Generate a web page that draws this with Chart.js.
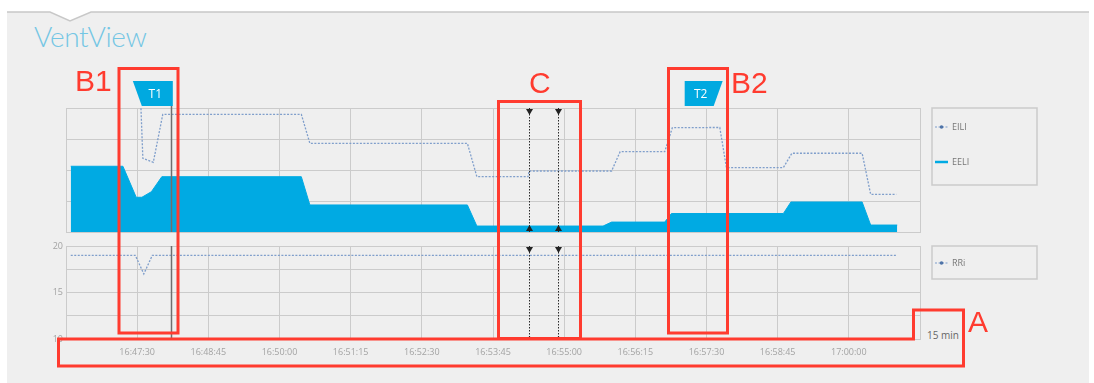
<!DOCTYPE html>
<html>
<head>
<meta charset="utf-8">
<script src="https://cdn.jsdelivr.net/npm/chart.js@4.4.0/dist/chart.umd.min.js"></script>
<style>
  html, body { margin: 0; padding: 0; background: #fff; }
  #page { position: relative; width: 1094px; height: 383px; overflow: hidden; }
  #page canvas, #page svg { position: absolute; left: 0; top: 0; }
  .title { position: absolute; left: 34px; top: 19px; font: 300 28px Lato, 'Open Sans', sans-serif; letter-spacing: -0.4px; color: #74c6e4; }
  .range { position: absolute; left: 927px; top: 328px; font: 10px 'Open Sans', sans-serif; color: #666; }
</style>
</head>
<body>
<div id="page">
  <svg width="1094" height="383">
    <polygon points="7,12 50,12 70,21 91,12 1089,12 1089,383 7,383" fill="#efefef"/>
    <polyline points="7,12 50,12 70,21 91,12 1089,12" fill="none" stroke="#c8c8c8" stroke-width="1.5"/>
  </svg>
  <div class="title">VentView</div>
  <div class="range">15 min</div>
  <canvas id="topChart" width="1094" height="383"></canvas>
  <canvas id="bottomChart" width="1094" height="383"></canvas>
  <svg width="1094" height="383">
    <g fill="none" stroke="#ff3b2f" stroke-width="3">
      <rect x="119" y="68.5" width="59" height="264.5"/>
      <rect x="668.5" y="68.5" width="59" height="264.5"/>
      <rect x="498.5" y="101.5" width="82" height="237"/>
      <polygon points="58.5,339 913.5,339 913.5,310 963.5,310 963.5,366 58.5,366"/>
    </g>
    <g fill="#ff3b2f" font-family="'Liberation Sans', Arial, sans-serif" font-size="30">
      <text x="75" y="90.5">B1</text>
      <text x="731" y="93">B2</text>
      <text x="529" y="93">C</text>
      <text x="968" y="331.5">A</text>
    </g>
  </svg>
</div>
<script>
// time window: 15 min, grid every 75 s
const startTime = '16:46:15';
const endTime = '17:01:15';

const eeliTimes = ['16:46:20', '16:47:15', '16:47:29', '16:47:35', '16:47:45', '16:47:56', '16:50:23', '16:50:32',
    '16:53:18', '16:53:28', '16:55:41', '16:55:50', '16:56:46', '16:56:53', '16:58:51', '16:58:59',
    '17:00:14', '17:00:23', '17:00:51'];
const eeliValues = [53, 53, 28, 28, 32.5, 44.6, 44.6, 21.8, 21.8, 4.8, 4.8, 8, 8, 14.9, 14.9, 24.2, 24.2, 5.6, 5.6];

const eiliTimes = ['16:47:34', '16:47:36', '16:47:47', '16:47:57', '16:50:23', '16:50:32', '16:53:18', '16:53:28',
    '16:54:22', '16:54:23', '16:55:50', '16:55:59', '16:56:46', '16:56:54', '16:57:44', '16:57:51',
    '16:58:51', '16:59:00', '17:00:14', '17:00:23', '17:00:50'];
const eiliValues = [99.8, 59.4, 56.2, 94.9, 94.9, 71.5, 71.5, 44.6, 44.6, 49.2, 49.2, 64.8, 64.8, 84.1, 84.3, 51.9,
    51.9, 63.5, 63.5, 30.4, 30.4];

const rriTimes = ['16:46:20', '16:47:28', '16:47:37', '16:47:46', '17:00:50'];
const rriValues = [19, 19, 17, 19, 19];

const markerLabels = ['T1', 'T2'];
const markerTimes = ['16:48:06', '16:57:07'];
const cursorTimes = ['16:54:23', '16:54:54'];
const positionTime = '16:48:06';

function toSec(t) {
    let p = t.split(':').map(Number);
    return p[0] * 3600 + p[1] * 60 + p[2];
}
function pad(n) { return String(n).padStart(2, '0'); }
function fmt(s) {
    return pad(Math.floor(s / 3600)) + ':' + pad(Math.floor(s % 3600 / 60)) + ':' + pad(s % 60);
}
function points(times, values) {
    return times.map((t, i) => ({ x: toSec(t), y: values[i] }));
}

Chart.defaults.font.family = "'Open Sans', sans-serif";
Chart.defaults.font.size = 9;
Chart.defaults.color = '#a3a3a3';

const gridColor = '#cbcbcb';

// legend in a framed box right of the plot
const boxLegend = {
    id: 'boxLegend',
    afterDraw(chart, args, opts) {
        let ctx = chart.ctx, a = chart.chartArea;
        let left = a.right + 12, top = a.top;
        ctx.save();
        ctx.strokeStyle = '#cbcbcb';
        ctx.lineWidth = 1.5;
        ctx.strokeRect(left, top, 105, opts.height);
        chart.data.datasets.forEach((ds, i) => {
            let y = top + opts.rows[i];
            if (ds.fill) {
                ctx.strokeStyle = ds.backgroundColor;
                ctx.lineWidth = 2.5;
                ctx.beginPath(); ctx.moveTo(left + 3, y); ctx.lineTo(left + 16, y); ctx.stroke();
            } else {
                ctx.strokeStyle = ds.borderColor;
                ctx.lineWidth = 1.2;
                ctx.setLineDash([2, 1.5]);
                ctx.beginPath(); ctx.moveTo(left + 3, y); ctx.lineTo(left + 16, y); ctx.stroke();
                ctx.setLineDash([]);
                ctx.fillStyle = '#4f74a8';
                ctx.beginPath(); ctx.arc(left + 9.5, y, 1.8, 0, Math.PI * 2); ctx.fill();
            }
            ctx.fillStyle = '#777';
            ctx.font = "9px 'Open Sans', sans-serif";
            ctx.textBaseline = 'middle';
            ctx.fillText(ds.label, left + 20, y);
        });
        ctx.restore();
    }
};

// time cursors and current position line
const cursors = {
    id: 'cursors',
    afterDatasetsDraw(chart, args, opts) {
        let ctx = chart.ctx, a = chart.chartArea, x = chart.scales.x;
        ctx.save();
        let p = Math.round(x.getPixelForValue(toSec(positionTime))) + 0.5;
        ctx.strokeStyle = '#6e6e6e';
        ctx.lineWidth = 1.5;
        ctx.beginPath(); ctx.moveTo(p, a.top - opts.lineTop); ctx.lineTo(p, a.bottom); ctx.stroke();

        cursorTimes.forEach(t => {
            let px = Math.round(x.getPixelForValue(toSec(t))) + 0.5;
            ctx.strokeStyle = '#2a2a2a';
            ctx.lineWidth = 1;
            ctx.setLineDash([1.5, 1.5]);
            ctx.beginPath(); ctx.moveTo(px, a.top); ctx.lineTo(px, a.bottom); ctx.stroke();
            ctx.setLineDash([]);
            ctx.fillStyle = '#222';
            ctx.beginPath();
            ctx.moveTo(px - 3.5, a.top + 1); ctx.lineTo(px + 3.5, a.top + 1); ctx.lineTo(px, a.top + 7);
            ctx.fill();
            ctx.beginPath();
            if (opts.bottomArrow) {
                ctx.moveTo(px - 3.5, a.bottom - 1); ctx.lineTo(px + 3.5, a.bottom - 1); ctx.lineTo(px, a.bottom - 7);
            } else {
                ctx.arc(px, a.bottom - 1, 1.5, 0, Math.PI * 2);
            }
            ctx.fill();
        });
        ctx.restore();
    }
};

// T1 / T2 flags above the plot
const flags = {
    id: 'flags',
    afterDraw(chart) {
        let ctx = chart.ctx, a = chart.chartArea, x = chart.scales.x;
        let top = a.top - 27, bottom = a.top - 2;
        ctx.save();
        markerTimes.forEach((t, i) => {
            let px = x.getPixelForValue(toSec(t));
            ctx.fillStyle = '#00a9e0';
            ctx.beginPath();
            let cx;
            if (i === 0) {
                ctx.moveTo(px + 1.5, top); ctx.lineTo(px + 1.5, bottom); ctx.lineTo(px - 29.5, bottom); ctx.lineTo(px - 38.5, top);
                cx = px - 16;
            } else {
                ctx.moveTo(px, top); ctx.lineTo(px + 38, top); ctx.lineTo(px + 29, bottom); ctx.lineTo(px, bottom);
                cx = px + 16;
            }
            ctx.closePath();
            ctx.fill();
            ctx.fillStyle = '#fff';
            ctx.font = "12px 'Open Sans', sans-serif";
            ctx.textAlign = 'center';
            ctx.textBaseline = 'middle';
            ctx.fillText(markerLabels[i], cx, (top + bottom) / 2 + 1);
        });
        ctx.restore();
    }
};

let xMin = toSec(startTime), xMax = toSec(endTime);

new Chart(document.getElementById('topChart'), {
    type: 'line',
    data: {
        datasets: [{
            label: 'EILI',
            data: points(eiliTimes, eiliValues),
            borderColor: '#7f9ecb',
            borderWidth: 1.3,
            borderDash: [2, 1.5],
            pointRadius: 0,
            fill: false
        }, {
            label: 'EELI',
            data: points(eeliTimes, eeliValues),
            borderColor: '#00aae3',
            backgroundColor: '#00aae3',
            borderWidth: 1,
            pointRadius: 0,
            fill: 'origin'
        }]
    },
    options: {
        responsive: false,
        animation: false,
        devicePixelRatio: 1,
        layout: { padding: { left: 46, top: 108, right: 174, bottom: 121 } },
        plugins: {
            legend: { display: false },
            tooltip: { enabled: false },
            boxLegend: { height: 77, rows: [19, 54] },
            cursors: { bottomArrow: true, lineTop: 3 }
        },
        scales: {
            x: {
                type: 'linear', min: xMin, max: xMax,
                ticks: { display: false, stepSize: 75 },
                grid: { color: gridColor, drawTicks: false },
                border: { color: gridColor },
                afterFit: s => { s.height = 30; }
            },
            y: {
                min: 0, max: 100,
                ticks: { display: false, stepSize: 25 },
                grid: { color: gridColor, drawTicks: false },
                border: { color: gridColor },
                afterFit: s => { s.width = 20; }
            }
        }
    },
    plugins: [boxLegend, cursors, flags]
});

new Chart(document.getElementById('bottomChart'), {
    type: 'line',
    data: {
        datasets: [{
            label: 'RRi',
            data: points(rriTimes, rriValues),
            borderColor: '#7f9ecb',
            borderWidth: 1.3,
            borderDash: [2, 1.5],
            pointRadius: 0,
            fill: false
        }]
    },
    options: {
        responsive: false,
        animation: false,
        devicePixelRatio: 1,
        layout: { padding: { left: 46, top: 246, right: 174, bottom: 14 } },
        plugins: {
            legend: { display: false },
            tooltip: { enabled: false },
            boxLegend: { height: 33, rows: [17] },
            cursors: { bottomArrow: false, lineTop: 0 }
        },
        scales: {
            x: {
                type: 'linear', min: xMin, max: xMax,
                ticks: {
                    stepSize: 75, padding: 8, autoSkip: false, maxRotation: 0,
                    callback: v => (v === xMin || v === xMax) ? '' : fmt(v)
                },
                grid: { color: gridColor, drawTicks: false },
                border: { color: gridColor },
                afterFit: s => { s.height = 30; }
            },
            y: {
                min: 10, max: 20,
                ticks: { stepSize: 2.5, padding: 3, callback: v => v % 5 === 0 ? v : '' },
                grid: { color: gridColor, drawTicks: false },
                border: { color: gridColor },
                afterFit: s => { s.width = 20; }
            }
        }
    },
    plugins: [boxLegend, cursors]
});
</script>
</body>
</html>
